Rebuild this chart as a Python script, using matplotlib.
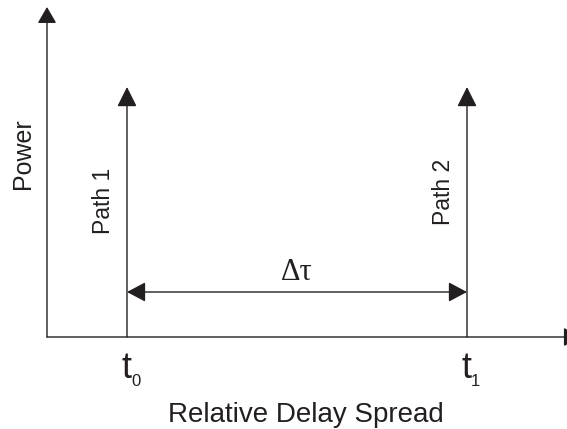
import matplotlib
matplotlib.use('Agg')
import matplotlib.pyplot as plt

plt.rcParams['font.family'] = ['Liberation Sans', 'DejaVu Sans']

# 两条路径的时延与功率
path_delays = [0.0, 1.0]
path_powers = [1.0, 1.0]
path_labels = ['Path 1', 'Path 2']
delay_labels = ['0', '1']
label_heights = [0.544, 0.58]

ink = '#231f20'

fig = plt.figure(figsize=(5.67, 4.29), dpi=100)
ax = fig.add_axes([0, 0, 1, 1])
ax.set_xlim(-127 / 340, 440 / 340)
ax.set_ylim(-92 / 250, 337 / 250)
ax.axis('off')


def arrow(x0, y0, x1, y1, hl, hw, both=False):
    style = '<|-|>' if both else '-|>'
    ax.annotate('', xy=(x1, y1), xytext=(x0, y0), annotation_clip=False,
                arrowprops=dict(arrowstyle=f'{style},head_length={hl},head_width={hw}',
                                mutation_scale=1, color=ink, lw=1.0,
                                shrinkA=0, shrinkB=0))


# 坐标轴
x_origin = -80 / 340
arrow(x_origin, 0, x_origin, 1.32, 10, 5.8)
arrow(x_origin, 0, 1.332, 0, 10, 5.8)

# 两条路径
for t, p, lab, sub, h in zip(path_delays, path_powers, path_labels, delay_labels, label_heights):
    arrow(t, 0, t, p, 12.2, 6.1)
    ax.annotate(lab, xy=(t, h), xytext=(-23, 0), textcoords='offset pixels',
                rotation=90, ha='center', va='center', fontsize=16.5, color=ink)
    ax.annotate('t', xy=(t, 0), xytext=(0, -41), textcoords='offset pixels',
                ha='center', va='baseline', fontsize=26, color=ink)
    ax.annotate(sub, xy=(t, 0), xytext=(4, -49), textcoords='offset pixels',
                ha='left', va='baseline', fontsize=12, color=ink)

# 时延扩展
spread_y = 0.18
arrow(path_delays[0], spread_y, path_delays[1], spread_y, 11.5, 6.1, both=True)
ax.annotate('Δτ', xy=(sum(path_delays) / 2, spread_y), xytext=(0, 12),
            textcoords='offset pixels', ha='center', va='baseline',
            fontsize=22, color=ink, family=['Liberation Serif', 'DejaVu Serif'])

ax.text(-0.306, 0.735, 'Power', rotation=90, ha='center', va='center',
        fontsize=18, color=ink)
ax.text(0.526, -0.34, 'Relative Delay Spread', ha='center', va='baseline',
        fontsize=20, color=ink)

fig.savefig('out.png', dpi=100)
